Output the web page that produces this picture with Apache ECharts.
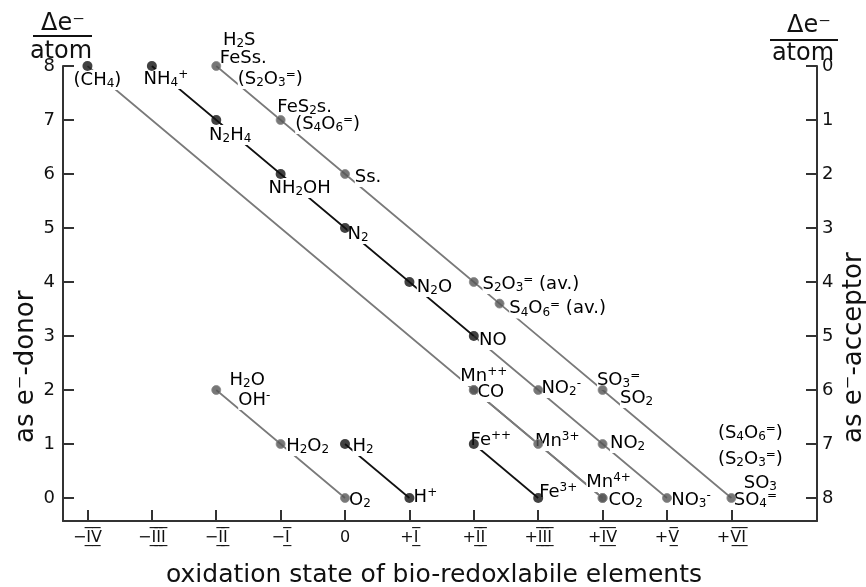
<!DOCTYPE html>
<html><head><meta charset="utf-8">
<script src="https://cdn.jsdelivr.net/npm/echarts@6/dist/echarts.min.js"></script>
<style>html,body{margin:0;padding:0;background:#fff}#c{width:866px;height:587px}</style>
</head><body><div id="c"></div>
<script>
const FONT = 'DejaVu Sans';

// ---- tick values / labels ----
const xTickValues = [-4, -3, -2, -1, 0, 1, 2, 3, 4, 5, 6];
const OV = '\u0305\u0332';
const xTickLabels = ['−I' + OV + 'V' + OV, '−I' + OV + 'I' + OV + 'I' + OV, '−I' + OV + 'I' + OV, '−I' + OV, '0',
  '+I' + OV, '+I' + OV + 'I' + OV, '+I' + OV + 'I' + OV + 'I' + OV, '+I' + OV + 'V' + OV, '+V' + OV, '+V' + OV + 'I' + OV];
const donorTicks = [0, 1, 2, 3, 4, 5, 6, 7, 8];
const acceptorTicks = [0, 1, 2, 3, 4, 5, 6, 7, 8];

// ---- data: [oxidation state, Δe⁻/atom as donor] ----
const carbon = [[-4, 8], [2, 2], [4, 0]];                 // CH4, CO, CO2
const nitrogenReduced = [[-3, 8], [-2, 7], [-1, 6], [0, 5], [1, 4], [2, 3]]; // NH4+ … NO
const nitrogenOxidized = [[2, 3], [3, 2], [4, 1], [5, 0]]; // NO, NO2-, NO2, NO3-
const sulfur = [[-2, 8], [-1, 7], [0, 6], [2, 4], [2.4, 3.6], [4, 2], [6, 0]];
const oxygen = [[-2, 2], [-1, 1], [0, 0]];                // H2O, H2O2, O2
const hydrogen = [[0, 1], [1, 0]];                        // H2, H+
const iron = [[2, 1], [3, 0]];                            // Fe++, Fe3+
const manganese = [[2, 2], [3, 1], [4, 0]];               // Mn++, Mn3+, Mn4+

// ---- species labels: [oxidation state, Δe⁻, text] ----
const labelList = [
  [-4, 8, '(CH_4)'],
  [-3, 8, 'NH_4^+'],
  [-2, 8, 'H_2S'],
  [-2, 8, 'FeSs.'],
  [-2, 8, '(S_2O_3^=)'],
  [-1, 7, 'FeS_2s.'],
  [-1, 7, '(S_4O_6^=)'],
  [0, 6, 'Ss.'],
  [-2, 7, 'N_2H_4'],
  [-1, 6, 'NH_2OH'],
  [0, 5, 'N_2'],
  [1, 4, 'N_2O'],
  [2, 4, 'S_2O_3^= (av.)'],
  [2.4, 3.6, 'S_4O_6^= (av.)'],
  [2, 3, 'NO'],
  [2, 2, 'Mn^{++}'],
  [2, 2, 'CO'],
  [3, 2, 'NO_2^-'],
  [4, 2, 'SO_3^='],
  [4, 2, 'SO_2'],
  [-2, 2, 'H_2O'],
  [-2, 2, 'OH^-'],
  [-1, 1, 'H_2O_2'],
  [0, 0, 'O_2'],
  [0, 1, 'H_2'],
  [1, 0, 'H^+'],
  [2, 1, 'Fe^{++}'],
  [3, 0, 'Fe^{3+}'],
  [3, 1, 'Mn^{3+}'],
  [4, 1, 'NO_2'],
  [4, 0, 'Mn^{4+}'],
  [4, 0, 'CO_2'],
  [5, 0, 'NO_3^-'],
  [6, 0, '(S_4O_6^=)'],
  [6, 0, '(S_2O_3^=)'],
  [6, 0, 'SO_3'],
  [6, 0, 'SO_4^=']
];

// ---- layout (pixel offsets of each label centre from its point) ----
const labelOffsets = [
  [10, 14], [14, 13], [23, -26], [27, -8], [54, 13], [24, -13], [47, 4], [23, 3],
  [14, 15], [19, 14], [13, 6], [25, 5], [57, 2], [58, 5], [19, 4], [10, -14], [17, 2],
  [23, -2], [16, -10], [34, 8], [31, -10], [38, 10], [27, 2], [15, 2], [18, 2], [16, -1],
  [17, -4], [20, -6], [19, -3], [25, -1], [6, -16], [23, 2], [24, 2], [19, -65], [19, -39],
  [29, -15], [24, 2]
];

function richify(s) {
  let out = '', i = 0;
  while (i < s.length) {
    const c = s[i];
    if (c === '_' || c === '^') {
      let t;
      if (s[i + 1] === '{') { const j = s.indexOf('}', i); t = s.slice(i + 2, j); i = j + 1; }
      else { t = s[i + 1]; i += 2; }
      out += '{' + (c === '_' ? 'b' : 'p') + '|' + t + '}';
    } else {
      let j = i;
      while (j < s.length && s[j] !== '_' && s[j] !== '^') j++;
      out += '{n|' + s.slice(i, j) + '}';
      i = j;
    }
  }
  return out;
}

function rich(color) {
  const base = { fontFamily: FONT, color, opacity: 1, textBorderWidth: 0, textShadowBlur: 0 };
  return {
    n: Object.assign({ fontSize: 18, lineHeight: 20, verticalAlign: 'middle' }, base),
    b: Object.assign({ fontSize: 12, lineHeight: 10, verticalAlign: 'bottom' }, base),
    p: Object.assign({ fontSize: 12, lineHeight: 10, verticalAlign: 'top' }, base)
  };
}

const GRAY = '#7a7a7a', BLACK = '#000';
function lineSeries(data, color) {
  return { type: 'line', data, symbol: 'none', silent: true, z: 2,
    lineStyle: { color, width: 1.7 }, animation: false };
}
function labelSeries(textColor, bg, z) {
  return {
    type: 'scatter', z, silent: true, animation: false, symbolSize: 1,
    itemStyle: { color: '#fff', opacity: 0 },
    data: labelList.map((d, k) => ({ value: [d[0], d[1]], name: d[2], label: { offset: labelOffsets[k] } })),
    label: {
      show: true, position: 'inside', formatter: p => richify(p.name),
      color: textColor, opacity: 1, textBorderWidth: 0,
      backgroundColor: bg, padding: 0, rich: rich(textColor)
    }
  };
}

const darkDots = [carbon[0], ...nitrogenReduced, ...hydrogen, ...iron];
const grayDots = [...carbon.slice(1), ...nitrogenOxidized.slice(1), ...sulfur, ...oxygen, ...manganese];

const axisColor = '#333';
const axisLine = { show: true, onZero: false, lineStyle: { color: axisColor, width: 2 } };
const chart = echarts.init(document.getElementById('c'), null, { renderer: 'canvas' });
chart.setOption({
  animation: false,
  backgroundColor: '#fff',
  grid: { left: 63, right: 49, top: 66, bottom: 66, containLabel: false },
  xAxis: {
    type: 'value', min: -4.38, max: 7.33,
    axisLine,
    axisTick: { show: true, inside: true, length: 11, customValues: xTickValues, lineStyle: { color: axisColor, width: 2 } },
    axisLabel: { customValues: xTickValues, formatter: v => xTickLabels[xTickValues.indexOf(v)],
      fontSize: 16, fontFamily: FONT, color: '#111', margin: 9 },
    splitLine: { show: false }
  },
  yAxis: [{
    type: 'value', position: 'left', min: -0.426, max: 8,
    axisLine,
    axisTick: { show: true, inside: true, length: 11, customValues: donorTicks, lineStyle: { color: axisColor, width: 2 } },
    axisLabel: { customValues: donorTicks, fontSize: 18, fontFamily: FONT, color: '#111', margin: 8 },
    splitLine: { show: false }
  }, {
    type: 'value', position: 'right', inverse: true, min: 0, max: 8.426,
    axisLine,
    axisTick: { show: true, inside: true, length: 11, customValues: acceptorTicks, lineStyle: { color: axisColor, width: 2 } },
    axisLabel: { customValues: acceptorTicks, fontSize: 18, fontFamily: FONT, color: '#111', margin: 5 },
    splitLine: { show: false }
  }],
  series: [
    lineSeries(carbon, GRAY),
    lineSeries(manganese, GRAY),
    lineSeries(nitrogenReduced, '#111'),
    lineSeries(nitrogenOxidized, GRAY),
    lineSeries(sulfur, GRAY),
    lineSeries(oxygen, GRAY),
    lineSeries(hydrogen, '#111'),
    lineSeries(iron, '#111'),
    labelSeries('#fff', '#fff', 3),
    labelSeries(BLACK, 'transparent', 4),
    { type: 'scatter', data: grayDots, symbolSize: 9, z: 5, silent: true, animation: false,
      itemStyle: { color: '#555', borderColor: '#888', borderWidth: 1 } },
    { type: 'scatter', data: darkDots, symbolSize: 10, z: 5, silent: true, animation: false,
      itemStyle: { color: '#111' } }
  ],
  graphic: [
    { type: 'text', x: 63, y: 24, silent: true, style: { text: 'Δe⁻', fontSize: 24, fontFamily: FONT, fill: '#111', align: 'center', verticalAlign: 'middle' } },
    { type: 'line', silent: true, shape: { x1: 33, y1: 36, x2: 92, y2: 36 }, style: { stroke: '#111', lineWidth: 2 } },
    { type: 'text', x: 61, y: 52, silent: true, style: { text: 'atom', fontSize: 24, fontFamily: FONT, fill: '#111', align: 'center', verticalAlign: 'middle' } },
    { type: 'text', x: 809, y: 26, silent: true, style: { text: 'Δe⁻', fontSize: 24, fontFamily: FONT, fill: '#111', align: 'center', verticalAlign: 'middle' } },
    { type: 'line', silent: true, shape: { x1: 770, y1: 40, x2: 838, y2: 40 }, style: { stroke: '#111', lineWidth: 2 } },
    { type: 'text', x: 803, y: 54, silent: true, style: { text: 'atom', fontSize: 24, fontFamily: FONT, fill: '#111', align: 'center', verticalAlign: 'middle' } },
    { type: 'text', x: 26, y: 443, rotation: Math.PI / 2, silent: true, style: { text: 'as e⁻-donor', fontSize: 26, fontFamily: FONT, fill: '#111', align: 'left', verticalAlign: 'middle' } },
    { type: 'text', x: 854, y: 443, rotation: Math.PI / 2, silent: true, style: { text: 'as e⁻-acceptor', fontSize: 26, fontFamily: FONT, fill: '#111', align: 'left', verticalAlign: 'middle' } },
    { type: 'text', x: 434, y: 575, silent: true, style: { text: 'oxidation state of bio-redoxlabile elements', fontSize: 25, fontFamily: FONT, fill: '#111', align: 'center', verticalAlign: 'middle' } }
  ]
});
</script></body></html>
